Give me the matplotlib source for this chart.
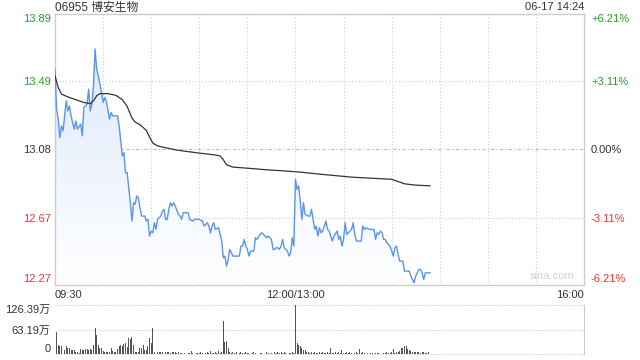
import matplotlib
matplotlib.use("Agg")
import matplotlib.pyplot as plt
import numpy as np

plt.rcParams['font.family'] = ['Liberation Sans', 'Noto Sans CJK SC', 'DejaVu Sans']

# chart texts
title = "06955 博安生物"
stamp = "06-17 14:24"
price_ticks = [13.89, 13.49, 13.08, 12.67, 12.27]
price_labels = ["13.89", "13.49", "13.08", "12.67", "12.27"]
pct_labels = ["+6.21%", "+3.11%", "0.00%", "-3.11%", "-6.21%"]
time_ticks = [0, 150, 330]
time_labels = ["09:30", "12:00/13:00", "16:00"]
vol_ticks = [126.39, 63.19, 0]
vol_labels = ["126.39万", "63.19万", "0"]
prev_close = 13.08

# price line vertices: trading minutes since 09:30 (lunch removed), price
price_t = [0, 1, 2, 3, 4, 5, 7, 8, 9, 10, 12, 13, 14, 16, 17, 18, 20, 21, 22, 23,
           24, 25, 26, 27, 28, 29, 30, 31, 32, 34, 35, 36, 39, 40, 42, 43, 44, 45, 47, 48,
           49, 50, 51, 52, 53, 54, 56, 57, 58, 59, 60, 61, 62, 63, 64, 66, 67, 68, 69, 70,
           71, 72, 73, 74, 75, 77, 78, 79, 80, 82, 83, 84, 86, 87, 90, 92, 93, 95, 96, 97,
           98, 99, 100, 102, 104, 105, 106, 107, 108, 109, 111, 112, 115, 116, 117, 118, 119, 120, 121, 122,
           124, 125, 126, 128, 129, 130, 132, 133, 135, 136, 137, 138, 139, 140, 141, 142, 143, 145, 146, 147,
           148, 149, 150, 151, 152, 153, 154, 155, 156, 158, 159, 160, 162, 163, 164, 165, 166, 167, 169, 170,
           171, 173, 174, 176, 177, 178, 179, 180, 181, 182, 184, 185, 186, 187, 188, 191, 192, 193, 194, 196,
           199, 200, 201, 202, 203, 204, 205, 206, 207, 209, 210, 211, 212, 213, 214, 215, 217, 218, 221, 222,
           224, 225, 227, 228, 229, 230, 231, 234]
price_v = [13.56, 13.32, 13.26, 13.15, 13.22, 13.19, 13.37, 13.31, 13.34, 13.28, 13.20, 13.25, 13.20, 13.23, 13.16, 13.33, 13.35, 13.44, 13.31, 13.35,
           13.46, 13.68, 13.56, 13.52, 13.47, 13.42, 13.36, 13.39, 13.37, 13.26, 13.30, 13.28, 13.28, 13.22, 13.04, 13.06, 12.94, 12.94, 12.76, 12.65,
           12.76, 12.75, 12.80, 12.79, 12.73, 12.68, 12.68, 12.65, 12.66, 12.56, 12.59, 12.58, 12.64, 12.60, 12.66, 12.68, 12.71, 12.72, 12.66, 12.66,
           12.72, 12.76, 12.74, 12.76, 12.74, 12.69, 12.68, 12.66, 12.70, 12.70, 12.70, 12.66, 12.65, 12.66, 12.66, 12.65, 12.62, 12.64, 12.62, 12.58,
           12.62, 12.64, 12.60, 12.61, 12.53, 12.43, 12.44, 12.38, 12.42, 12.48, 12.44, 12.44, 12.44, 12.50, 12.50, 12.54, 12.50, 12.48, 12.44, 12.47,
           12.47, 12.55, 12.54, 12.57, 12.58, 12.57, 12.55, 12.56, 12.54, 12.48, 12.48, 12.49, 12.49, 12.48, 12.50, 12.54, 12.49, 12.47, 12.44, 12.46,
           12.55, 12.50, 12.90, 12.84, 12.86, 12.77, 12.66, 12.76, 12.69, 12.68, 12.68, 12.72, 12.60, 12.62, 12.56, 12.61, 12.58, 12.59, 12.65, 12.60,
           12.59, 12.53, 12.56, 12.59, 12.54, 12.56, 12.50, 12.54, 12.64, 12.57, 12.59, 12.60, 12.64, 12.57, 12.53, 12.53, 12.62, 12.60, 12.61, 12.60,
           12.60, 12.54, 12.58, 12.57, 12.59, 12.58, 12.54, 12.54, 12.52, 12.50, 12.47, 12.44, 12.49, 12.50, 12.45, 12.41, 12.41, 12.35, 12.35, 12.32,
           12.28, 12.32, 12.36, 12.36, 12.34, 12.30, 12.34, 12.34]

# average price line vertices
avg_t = [0, 2, 4, 9, 15, 18, 22, 24, 26, 28, 33, 38, 42, 45, 48, 50, 53, 57, 59, 61,
         64, 70, 76, 82, 90, 99, 103, 105, 107, 111, 122, 132, 142, 153, 165, 185, 210, 214, 218, 225,
         234]
avg_v = [13.52, 13.45, 13.41, 13.39, 13.37, 13.36, 13.353, 13.37, 13.40, 13.413, 13.413, 13.403, 13.377, 13.337, 13.267, 13.243, 13.227, 13.193, 13.153, 13.117,
         13.10, 13.087, 13.075, 13.067, 13.057, 13.047, 13.04, 13.017, 12.987, 12.973, 12.965, 12.957, 12.951, 12.943, 12.931, 12.913, 12.90, 12.887, 12.873, 12.865,
         12.861]

# volume per minute (万股)
volume = [99, 58, 24, 22, 20, 20, 11, 20, 15, 15,
          11, 10, 10, 7, 5, 4, 14, 12, 12, 13,
          13, 12, 13, 12, 24, 68, 49, 24, 15, 15,
          8, 6, 7, 5, 6, 17, 8, 6, 7, 14,
          20, 24, 20, 26, 29, 18, 41, 39, 44, 24,
          6, 5, 5, 15, 17, 24, 10, 10, 20, 41,
          30, 67, 6, 51, 5, 5, 6, 5, 4, 6,
          5, 5, 4, 5, 6, 5, 4, 5, 4, 3,
          2, 3, 2, 3, 4, 8, 3, 2, 3, 4,
          3, 6, 3, 2, 4, 5, 3, 8, 4, 3,
          5, 4, 9, 4, 5, 85, 32, 33, 15, 6,
          4, 5, 3, 6, 2, 4, 5, 3, 4, 6,
          3, 4, 2, 3, 5, 4, 3, 2, 3, 4,
          2, 3, 5, 3, 2, 4, 3, 5, 4, 6,
          3, 5, 4, 6, 3, 2, 3, 4, 5, 3,
          126.39, 28, 24, 22, 15, 11, 11, 6, 5, 4,
          6, 3, 5, 4, 3, 6, 4, 5, 3, 4,
          5, 3, 15, 4, 3, 5, 4, 6, 3, 11,
          4, 3, 5, 4, 6, 3, 2, 4, 5, 3,
          13, 4, 6, 3, 5, 3, 2, 4, 3, 5,
          3, 4, 3, 2, 5, 3, 4, 6, 3, 4,
          5, 13, 4, 6, 5, 8, 17, 15, 22, 20,
          13, 11, 9, 6, 7, 5, 6, 5, 4, 6,
          5, 4, 3, 5, 2]

green = '#22a022'
red = '#ee3333'
dark = '#333333'
grid_c = '#cccccc'
fs = 8

fig = plt.figure(figsize=(6.4, 3.6), dpi=100)
ax = fig.add_axes([55 / 640, 1 - 284.5 / 360, 529 / 640, 270.5 / 360])
axv = fig.add_axes([55 / 640, 1 - 354.3 / 360, 529 / 640, 49.3 / 360])

ymin, ymax = price_ticks[-1], price_ticks[0]
ax.set_xlim(0, 330)
ax.set_ylim(ymin, ymax)

# gradient fill under the price line
poly = ax.fill_between(price_t, price_v, ymin, color='none', lw=0)
grad = np.linspace(0, 1, 256).reshape(-1, 1)
cmap = matplotlib.colors.LinearSegmentedColormap.from_list('f', ['#d9e6fa', '#ffffff'])
im = ax.imshow(grad, aspect='auto', cmap=cmap, extent=[0, 330, ymin, ymax],
               origin='upper', zorder=1)
path = poly.get_paths()[0]
im.set_clip_path(path, transform=ax.transData)

ax.plot(price_t, price_v, color='#5a94f0', lw=1.0, zorder=3)
ax.plot(avg_t, avg_v, color=dark, lw=0.9, zorder=3)

# grid
for m in range(30, 330, 30):
    ax.axvline(m, color=grid_c, lw=0.8, ls=(0, (1, 2)), zorder=0)
for p in price_ticks[1:-1]:
    if p == prev_close:
        ax.axhline(p, color='#bbbbbb', lw=0.8, ls=(0, (3, 2, 1, 2)), zorder=0)
    else:
        ax.axhline(p, color=grid_c, lw=0.8, ls=(0, (1, 2)), zorder=0)

for s in ax.spines.values():
    s.set_color(grid_c)
    s.set_linewidth(1)

ax.set_yticks(price_ticks)
ax.set_yticklabels(price_labels)
ax.tick_params(axis='y', length=0, pad=3, labelsize=fs)
colors = [green, green, dark, red, red]
for lab, c in zip(ax.get_yticklabels(), colors):
    lab.set_color(c)
ax.get_yticklabels()[0].set_va('top')
ax.get_yticklabels()[-1].set_va('bottom')

ax.set_xticks(time_ticks)
ax.set_xticklabels(time_labels)
ax.tick_params(axis='x', length=0, pad=4, labelsize=fs, labelcolor=dark)
xl = ax.get_xticklabels()
xl[0].set_ha('left')
xl[-1].set_ha('right')

ax2 = ax.twinx()
ax2.set_ylim(ymin, ymax)
ax2.set_yticks(price_ticks)
ax2.set_yticklabels(pct_labels)
ax2.tick_params(axis='y', length=0, pad=5, labelsize=fs)
for lab, c in zip(ax2.get_yticklabels(), colors):
    lab.set_color(c)
ax2.get_yticklabels()[0].set_va('top')
ax2.get_yticklabels()[-1].set_va('bottom')
for s in ax2.spines.values():
    s.set_visible(False)

ax.text(0.981, 0.012, "sina.com", transform=ax.transAxes, ha='right', va='bottom',
        color='#d2d2d2', fontsize=8)

fig.text(55 / 640, 1 - 7.5 / 360, title, ha='left', va='center', fontsize=8.5, color=dark)
fig.text(584 / 640, 1 - 7.5 / 360, stamp, ha='right', va='center', fontsize=fs, color=dark)

# volume panel
vt = np.arange(len(volume))
axv.bar(vt, volume, width=0.6, color='#555555', zorder=2)
axv.set_xlim(0, 330)
axv.set_ylim(0, vol_ticks[0])
for v in vol_ticks:
    axv.axhline(v, color=grid_c, lw=0.8, ls=(0, (1, 1.5)), zorder=0, clip_on=False)
for k, s in axv.spines.items():
    s.set_visible(k == 'right')
axv.spines['right'].set_color(grid_c)
axv.set_xticks([])
axv.set_yticks(vol_ticks)
axv.set_yticklabels(vol_labels)
axv.tick_params(axis='y', length=0, pad=3, labelsize=fs, labelcolor=dark)
axv.get_yticklabels()[0].set_va('top')
axv.get_yticklabels()[-1].set_va('bottom')

fig.savefig("out.png", dpi=100)
